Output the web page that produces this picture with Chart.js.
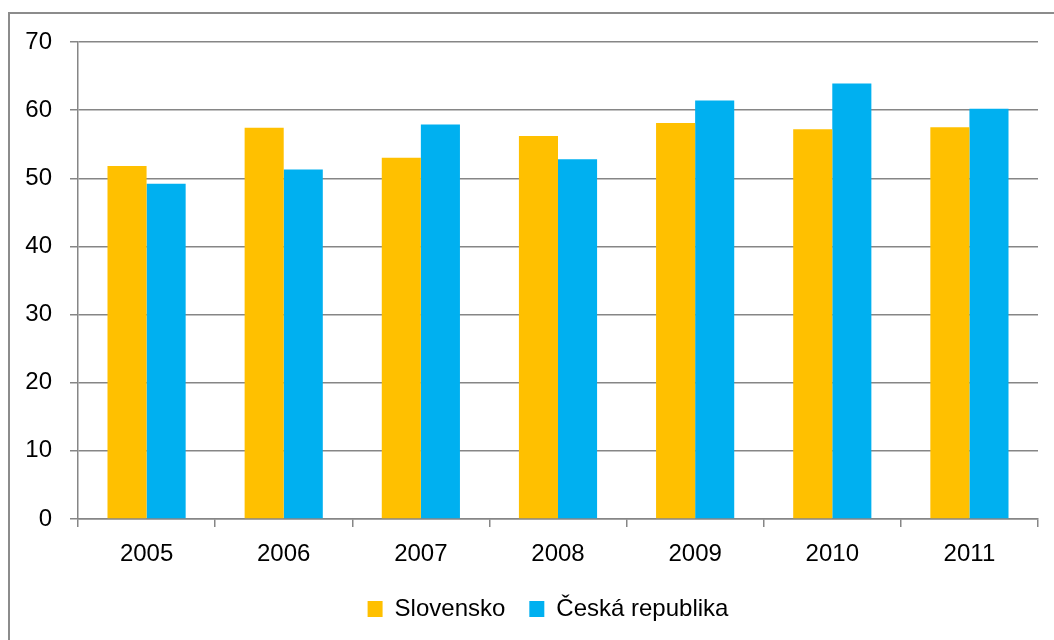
<!DOCTYPE html>
<html>
<head>
<meta charset="utf-8">
<script src="https://cdn.jsdelivr.net/npm/chart.js@4/dist/chart.umd.min.js"></script>
<style>
    html, body { margin: 0; padding: 0; background: #fff; }
    #wrap { position: relative; width: 1054px; height: 640px; overflow: hidden; }
    #frame { position: absolute; left: 8px; top: 12px; width: 1100px; height: 700px; border-left: 2px solid #8c8c8c; border-top: 2px solid #8c8c8c; }
    #chart { position: absolute; left: 0; top: 0; }
</style>
</head>
<body>
<div id="wrap">
    <div id="frame"></div>
    <canvas id="chart" width="1054" height="640"></canvas>
</div>
<script>
    'use strict'

    var years = ['2005', '2006', '2007', '2008', '2009', '2010', '2011'];
    var slovensko = [51.8, 57.4, 53.0, 56.2, 58.1, 57.2, 57.5];
    var ceskaRepublika = [49.2, 51.3, 57.9, 52.8, 61.4, 63.9, 60.2];
    var seriesNames = ['Slovensko', 'Česká republika'];

    var gridColor = '#868686';
    var font = { family: '"Liberation Sans", Arial, sans-serif', size: 24 };

    Chart.defaults.font.family = font.family;
    Chart.defaults.color = '#000';

    // nudge the legend a bit to the right of the canvas centre
    var legendShift = {
        id: 'legendShift',
        afterLayout: function (chart) {
            chart.legend.left += 17;
            chart.legend.right += 17;
        }
    };

    var ctx = document.getElementById('chart').getContext('2d');
    var myBarChart = new Chart(ctx, {
        type: 'bar',
        data: {
            labels: years,
            datasets: [{
                label: seriesNames[0],
                data: slovensko,
                backgroundColor: '#FFC000',
                borderWidth: 0
            }, {
                label: seriesNames[1],
                data: ceskaRepublika,
                backgroundColor: '#00B0F0',
                borderWidth: 0
            }]
        },
        options: {
            responsive: false,
            animation: false,
            layout: {
                padding: { left: 24, right: 16, top: 42, bottom: 9 }
            },
            datasets: {
                bar: { categoryPercentage: 0.57, barPercentage: 1 }
            },
            plugins: {
                tooltip: { enabled: false },
                legend: {
                    display: true,
                    position: 'bottom',
                    labels: {
                        font: font,
                        color: '#000',
                        boxWidth: 15,
                        boxHeight: 16,
                        padding: 24
                    }
                }
            },
            scales: {
                x: {
                    grid: {
                        offset: true,
                        drawOnChartArea: false,
                        drawTicks: true,
                        tickLength: 8,
                        color: gridColor,
                        lineWidth: 1.5
                    },
                    border: { color: gridColor, width: 1.5 },
                    ticks: { font: font, color: '#000', padding: 13 },
                    afterFit: function (scale) { scale.height = 54; }
                },
                y: {
                    min: 0,
                    max: 70,
                    ticks: { stepSize: 10, font: font, color: '#000', padding: 18 },
                    grid: {
                        color: gridColor,
                        lineWidth: 1.5,
                        tickLength: 8
                    },
                    border: { color: gridColor, width: 1.5 },
                    afterFit: function (scale) { scale.width = 54; }
                }
            }
        },
        plugins: [legendShift]
    });
</script>
</body>
</html>
